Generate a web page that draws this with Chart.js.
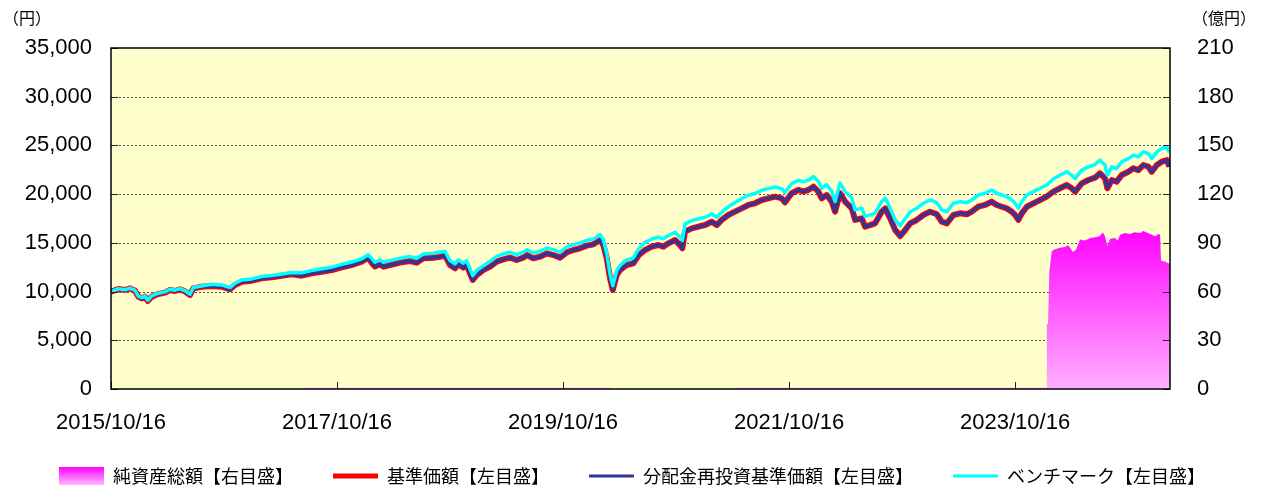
<!DOCTYPE html>
<html lang="ja">
<head>
<meta charset="utf-8">
<script src="https://cdn.jsdelivr.net/npm/chart.js@4.4.1/dist/chart.umd.min.js"></script>
<style>
  html, body { margin:0; padding:0; background:#fff; }
  #wrap { width:1264px; height:488px; }
</style>
</head>
<body>
<div id="wrap"><canvas id="chart" width="1264" height="488"></canvas></div>
<script>
// elapsed months since 2015/10/16 (inception)
const navMonths = [
  0, 0.78, 1.49, 2.02, 2.55, 2.90, 3.26, 3.61, 3.90, 4.32,
  5.02, 5.73, 6.26, 6.80, 7.33, 7.86, 8.39, 8.74, 9.63, 10.69,
  11.76, 12.64, 13.17, 13.88, 14.94, 16.00, 17.07, 18.13, 19.19, 20.25,
  21.31, 22.38, 23.44, 24.50, 25.56, 26.62, 27.32, 27.72, 28.03, 28.57,
  28.92, 29.63, 30.69, 31.75, 32.46, 33.16, 34.23, 34.94, 35.47, 36.00,
  36.53, 36.88, 37.41, 37.77, 38.12, 38.41, 38.83, 39.53, 40.25, 40.96,
  41.66, 42.37, 43.08, 43.78, 44.14, 44.84, 45.56, 46.27, 46.97, 47.68,
  48.39, 49.09, 49.80, 50.52, 51.22, 51.93, 52.28, 52.64, 52.99, 53.28,
  53.70, 54.05, 54.76, 55.46, 56.00, 56.71, 57.42, 58.12, 58.65, 59.18,
  59.89, 60.42, 60.67, 60.95, 61.67, 62.37, 63.08, 63.79, 64.32, 64.85,
  65.55, 66.26, 66.97, 67.68, 68.39, 69.10, 69.80, 70.51, 71.22, 71.57,
  72.28, 72.99, 73.52, 74.05, 74.58, 75.11, 75.47, 76.00, 76.53, 76.88,
  77.41, 77.95, 78.66, 79.01, 79.72, 80.07, 80.60, 81.13, 81.84, 82.21,
  82.74, 83.27, 83.80, 84.15, 84.86, 85.56, 86.26, 86.97, 87.69, 88.22,
  88.75, 89.45, 90.16, 90.87, 91.40, 92.10, 92.81, 93.52, 94.05, 94.58,
  95.11, 95.65, 96.00, 96.35, 96.71, 97.24, 97.94, 98.65, 99.36, 100.06,
  100.77, 101.48, 102.02, 102.37, 103.08, 103.78, 104.49, 105.02, 105.55, 105.80,
  106.26, 106.79, 107.32, 108.03, 108.56, 109.09, 109.62, 110.15, 110.51, 111.05,
  111.58, 112.11, 112.38
];

// 基準価額 (円) -- 分配金再投資基準価額 is drawn on the same values (lines coincide)
const nav = [
  10000, 10260, 10160, 10330, 10090, 9480, 9300, 9480, 9030, 9480,
  9750, 9890, 10160, 10060, 10230, 10000, 9650, 10330, 10500, 10570,
  10500, 10230, 10670, 11010, 11120, 11360, 11460, 11630, 11770, 11630,
  11870, 12040, 12210, 12490, 12730, 13070, 13480, 12900, 12560, 12800,
  12560, 12730, 12970, 13140, 12970, 13410, 13480, 13580, 13690, 12730,
  12390, 12800, 12460, 12730, 11870, 11190, 11700, 12210, 12560, 13070,
  13310, 13480, 13240, 13480, 13750, 13410, 13580, 13920, 13750, 13480,
  14030, 14270, 14440, 14710, 14850, 15290, 14780, 13410, 11360, 10160,
  11700, 12210, 12730, 12900, 13700, 14270, 14610, 14780, 14610, 14950,
  15290, 14780, 14440, 16150, 16490, 16660, 16830, 17170, 16830, 17350,
  17860, 18200, 18540, 18890, 19060, 19400, 19570, 19740, 19570, 19160,
  20090, 20430, 20260, 20430, 20770, 20260, 19570, 19910, 19230, 18200,
  20090, 19230, 18540, 17350, 17520, 16660, 16830, 17000, 18200, 18540,
  17520, 16320, 15700, 16100, 17000, 17350, 17860, 18200, 17930, 17170,
  17000, 17860, 18030, 17930, 18200, 18710, 18890, 19230, 18890, 18710,
  18540, 18200, 17860, 17350, 18030, 18710, 19060, 19400, 19740, 20260,
  20600, 20940, 20600, 20260, 21110, 21450, 21690, 22140, 21620, 20600,
  21450, 21280, 21960, 22300, 22650, 22470, 22990, 22820, 22300, 22990,
  23330, 23500, 22820
];
const navReinv = nav;

// ベンチマーク (円)
const bench = [
  10000, 10290, 10190, 10360, 10120, 9530, 9380, 9560, 9110, 9560,
  9830, 9970, 10240, 10140, 10310, 10080, 9730, 10410, 10580, 10750,
  10680, 10410, 10850, 11190, 11300, 11540, 11640, 11810, 11950, 11930,
  12170, 12340, 12510, 12790, 13030, 13370, 13780, 13350, 13010, 13250,
  13010, 13180, 13420, 13590, 13420, 13860, 13930, 14030, 14140, 13180,
  12840, 13250, 12910, 13180, 12320, 11640, 12150, 12660, 13110, 13620,
  13860, 14030, 13790, 14030, 14300, 13960, 14130, 14470, 14300, 14030,
  14580, 14820, 14990, 15260, 15400, 15840, 15300, 13900, 11800, 10600,
  12150, 12700, 13250, 13450, 14350, 15050, 15400, 15580, 15410, 15750,
  16090, 15580, 15240, 16950, 17290, 17460, 17630, 17970, 17630, 18150,
  18700, 19150, 19540, 19890, 20060, 20400, 20570, 20740, 20570, 20160,
  21090, 21430, 21260, 21430, 21800, 21300, 20620, 20960, 20280, 19250,
  21140, 20280, 19590, 18400, 18570, 17710, 17880, 18050, 19250, 19590,
  18570, 17370, 16750, 17250, 18200, 18550, 19060, 19400, 19130, 18370,
  18200, 19060, 19230, 19130, 19400, 19910, 20090, 20430, 20090, 19910,
  19740, 19400, 19060, 18550, 19230, 19910, 20260, 20600, 20940, 21560,
  21950, 22290, 21950, 21610, 22460, 22800, 23040, 23490, 22970, 21950,
  22800, 22630, 23310, 23650, 24000, 23820, 24340, 24170, 23650, 24340,
  24680, 24850, 24300
];

// 純資産総額 (億円)
const assetMonths = [
  0, 20.45, 20.45, 53.07, 53.07, 66.26, 66.26, 99.30,
  99.37, 99.50, 99.64, 99.90, 100.24, 100.77, 101.30, 101.60, 101.80, 102.15,
  102.50, 102.90, 103.40, 104.00, 104.50, 105.00, 105.30, 105.55, 105.80, 106.10,
  106.60, 106.90, 107.15, 107.70, 108.20, 108.70, 109.30, 109.60, 110.10, 110.50,
  110.90, 111.20, 111.40, 111.50, 111.90, 112.45
];
const assets = [
  0, 0, 0.8, 0.8, 0, 0, 0.8, 0.8,
  39.6, 40, 72.5, 85, 86, 87, 87.5, 88.5, 87.5, 84.3,
  86, 92, 91.5, 93, 93.5, 94, 96.5, 94, 88, 92.5,
  93, 91.5, 95, 96, 95.5, 96.5, 96, 97.3, 96, 95,
  94, 95.5, 95, 79, 78.5, 77
];

const xTickMonths = [0, 24, 48, 72, 96];
const xTickLabels = ['2015/10/16', '2017/10/16', '2019/10/16', '2021/10/16', '2023/10/16'];
const legendNames = ['純資産総額【右目盛】', '基準価額【左目盛】', '分配金再投資基準価額【左目盛】', 'ベンチマーク【左目盛】'];

const pts = (xs, ys) => xs.map((x, i) => ({ x, y: ys[i] }));

function swatch(draw) {
  const c = document.createElement('canvas');
  c.width = 45; c.height = 18;
  draw(c.getContext('2d'));
  return c;
}
const lineSwatch = (color, w) => swatch(g => {
  g.strokeStyle = color; g.lineWidth = w; g.lineCap = 'round';
  g.beginPath(); g.moveTo(1, 9); g.lineTo(44, 9); g.stroke();
});
const swatches = [
  swatch(g => {
    const gr = g.createLinearGradient(0, 0, 0, 18);
    gr.addColorStop(0, '#ff00ff'); gr.addColorStop(1, '#ffb8ff');
    g.fillStyle = gr; g.fillRect(0, 0, 45, 18);
  }),
  lineSwatch('#ff0000', 5),
  lineSwatch('#333399', 3),
  lineSwatch('#00ffff', 3)
];

const framePlugin = {
  id: 'frame',
  afterLayout(chart) {
    // pull legend row up so the date labels keep a tall enough box
    chart.legend.top -= 10;
  },
  beforeDraw(chart) {
    const { ctx, chartArea: a, scales } = chart;
    ctx.save();
    ctx.fillStyle = '#ffffcc';
    ctx.fillRect(a.left, a.top, a.right - a.left, a.bottom - a.top);
    ctx.strokeStyle = '#555';
    ctx.lineWidth = 1;
    ctx.setLineDash([2, 2]);
    scales.y.ticks.forEach(t => {
      const py = Math.round(scales.y.getPixelForValue(t.value)) + 0.5;
      if (py <= a.top + 1 || py >= a.bottom - 1) return;
      ctx.beginPath(); ctx.moveTo(a.left, py); ctx.lineTo(a.right, py); ctx.stroke();
    });
    ctx.restore();
  },
  afterDatasetsDraw(chart) {
    const { ctx, chartArea: a, scales } = chart;
    ctx.save();
    ctx.strokeStyle = '#222';
    ctx.lineWidth = 1;
    ctx.beginPath();
    scales.y.ticks.forEach(t => {
      const py = Math.round(scales.y.getPixelForValue(t.value)) + 0.5;
      ctx.moveTo(a.left, py); ctx.lineTo(a.left + 7, py);
    });
    scales.y1.ticks.forEach(t => {
      const py = Math.round(scales.y1.getPixelForValue(t.value)) + 0.5;
      ctx.moveTo(a.right - 7, py); ctx.lineTo(a.right, py);
    });
    xTickMonths.forEach(m => {
      const px = Math.round(scales.x.getPixelForValue(m)) + 0.5;
      ctx.moveTo(px, a.bottom - 7); ctx.lineTo(px, a.bottom);
    });
    ctx.stroke();
    ctx.strokeStyle = '#000';
    ctx.lineWidth = 1.5;
    ctx.strokeRect(a.left, a.top, a.right - a.left, a.bottom - a.top);
    ctx.restore();
  },
  afterDraw(chart) {
    const { ctx, chartArea: a } = chart;
    ctx.save();
    ctx.fillStyle = '#000';
    ctx.font = '16px "Noto Sans CJK JP"';
    ctx.textBaseline = 'middle';
    ctx.textAlign = 'left';
    ctx.fillText('（円）', 3, 18);
    ctx.fillText('（億円）', a.right + 22, 18);
    ctx.restore();
  }
};

Chart.defaults.font.family = '"Liberation Sans", "Noto Sans CJK JP", sans-serif';
Chart.defaults.color = '#000';

new Chart(document.getElementById('chart'), {
  type: 'line',
  data: {
    datasets: [
      {
        label: legendNames[0], data: pts(assetMonths, assets), yAxisID: 'y1', order: 4,
        fill: 'origin', borderWidth: 0, pointRadius: 0,
        backgroundColor: c => {
          const { chart } = c;
          const a = chart.chartArea;
          if (!a) return '#ff66ff';
          const g = chart.ctx.createLinearGradient(0, chart.scales.y1.getPixelForValue(100), 0, a.bottom);
          g.addColorStop(0, '#ff00ff'); g.addColorStop(1, '#ffb0ff');
          return g;
        }
      },
      { label: legendNames[1], data: pts(navMonths, nav), yAxisID: 'y', order: 3,
        borderColor: '#ff0000', borderWidth: 6, pointRadius: 0, borderJoinStyle: 'round', fill: false },
      { label: legendNames[2], data: pts(navMonths, navReinv), yAxisID: 'y', order: 2,
        borderColor: '#333399', borderWidth: 3.5, pointRadius: 0, borderJoinStyle: 'round', fill: false },
      { label: legendNames[3], data: pts(navMonths, bench), yAxisID: 'y', order: 1,
        borderColor: '#00ffff', borderWidth: 3.5, pointRadius: 0, borderJoinStyle: 'round', fill: false }
    ]
  },
  options: {
    responsive: false,
    animation: false,
    devicePixelRatio: 1,
    layout: { padding: { top: 48, left: 0, right: 0, bottom: 0 } },
    plugins: {
      tooltip: { enabled: false },
      legend: {
        position: 'bottom',
        maxHeight: 51,
        labels: {
          usePointStyle: true,
          pointStyleWidth: 45,
          boxHeight: 18,
          padding: 40,
          color: '#000',
          font: { family: '"Noto Sans CJK JP", sans-serif', size: 18 },
          generateLabels: () => legendNames.map((t, i) => ({
            text: t, pointStyle: swatches[i], fillStyle: 'transparent',
            strokeStyle: 'transparent', lineWidth: 0, hidden: false, datasetIndex: i
          }))
        }
      }
    },
    scales: {
      x: {
        type: 'linear', min: 0, max: 112.45,
        grid: { display: false }, border: { display: false },
        afterBuildTicks: s => { s.ticks = xTickMonths.map(v => ({ value: v })); },
        afterFit: s => { s.height = 48; },
        ticks: {
          padding: 13, maxRotation: 0, autoSkip: false,
          font: { size: 22 },
          callback: v => xTickLabels[xTickMonths.indexOf(v)] || ''
        }
      },
      y: {
        position: 'left', min: 0, max: 35000,
        grid: { display: false }, border: { display: false },
        afterFit: s => { s.width = 111; },
        ticks: { stepSize: 5000, padding: 11, font: { size: 22 },
          callback: v => v.toLocaleString('en-US') }
      },
      y1: {
        position: 'right', min: 0, max: 210,
        grid: { display: false }, border: { display: false },
        afterFit: s => { s.width = 94; },
        ticks: { stepSize: 30, padding: 19, font: { size: 22 } }
      }
    }
  },
  plugins: [framePlugin]
});
</script>
</body>
</html>
